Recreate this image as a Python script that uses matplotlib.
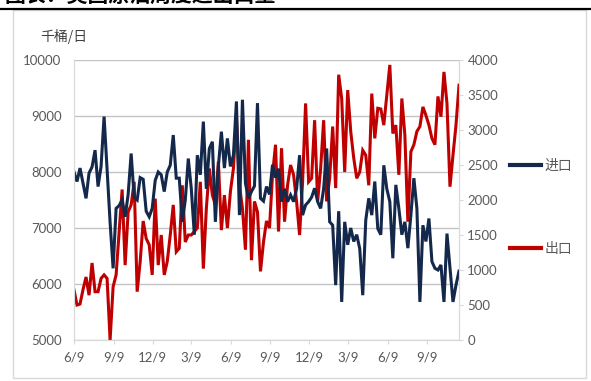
import numpy as np
import pandas as pd
import matplotlib
matplotlib.use("Agg")
import matplotlib.pyplot as plt
from matplotlib.lines import Line2D
from matplotlib.patches import Rectangle

plt.rcParams['font.family'] = ['Lato', 'Noto Sans CJK SC', 'DejaVu Sans']

# 周度数据，千桶/日
imports = [8000, 7830, 8070, 7800, 7530, 7980, 8090, 8390, 7740, 8100,
           8990, 8060, 7100, 6280, 7350, 7400, 7500, 7200, 7600, 8330,
           7550, 7500, 7900, 7870, 7300, 7200, 7350, 7850, 8000, 7950,
           7650, 8000, 8120, 8660, 7890, 7890, 7110, 7500, 8240, 7700,
           6880, 8300, 7950, 8900, 7700, 8420, 8540, 7110, 8100, 8720,
           8070, 8600, 8100, 8300, 9260, 7230, 9290, 7800, 7530, 7650,
           7750, 9230, 7530, 7480, 7740, 7600, 8130, 7900, 8060, 7470,
           7700, 7470, 7590, 7470, 7700, 8300, 7230, 7410, 7470, 7550,
           7710, 7470, 7350, 7700, 8420, 7110, 7050, 5980, 7300, 5680,
           7110, 6700, 7000, 6760, 6880, 6630, 5800, 7140, 7530, 7230,
           7830, 6990, 6880, 8120, 7700, 7470, 6460, 7770, 7350, 6880,
           7110, 6640, 7230, 7890, 7350, 5680, 7050, 6760, 7170, 6400,
           6280, 6250, 6340, 5680, 6900, 6280, 5680, 5980, 6230]
exports = [714, 500, 514, 720, 900, 640, 1100, 690, 690, 880,
           930, 880, 0, 760, 930, 1550, 2150, 1070, 1830, 1930,
           2260, 690, 1120, 1700, 1450, 1360, 930, 2020, 1070, 1500,
           930, 1120, 1500, 1930, 1260, 1310, 2210, 1400, 1500, 1500,
           1550, 1600, 2260, 1020, 1880, 2450, 2070, 1930, 2550, 1570,
           2070, 1600, 2120, 2450, 3190, 2210, 1880, 1290, 2860, 1140,
           1980, 1830, 980, 1400, 1700, 1600, 2360, 2790, 1550, 2740,
           1690, 2210, 2500, 2360, 1980, 1500, 2260, 3380, 2260, 2310,
           3140, 1980, 2450, 3140, 1980, 2310, 3050, 2170, 3790, 3450,
           2400, 3570, 2980, 2600, 2310, 2400, 2710, 2640, 2210, 3520,
           2880, 3310, 3300, 3070, 3500, 3930, 2950, 3070, 2360, 3450,
           2930, 1690, 2690, 2790, 2980, 3050, 3330, 3210, 3070, 2880,
           2790, 3480, 3190, 3830, 3380, 2190, 2640, 3070, 3640]

dates = pd.date_range('2017-06-09', periods=len(imports), freq='7D')
ticks = pd.date_range('2017-06-09', dates[-1], freq=pd.DateOffset(months=3))
tick_labels = [f"{d.month}/{d.day}" for d in ticks]

navy = '#14284b'
red = '#c00000'
grey_txt = '#595959'
grid_c = '#c4c4c4'
spine_c = '#d9d9d9'

fig = plt.figure(figsize=(5.91, 3.81), dpi=100)
W, H = 591, 381

# 上方标题（只露出下半截）和粗横线
fig.text(4 / W, 1 - 3 / H, '图表：美国原油周度进出口量', fontsize=15, fontweight='bold',
         color='black', ha='left', va='baseline', family=['Noto Sans CJK SC', 'DejaVu Sans'])
fig.add_artist(Line2D([0, 1], [1 - 9 / H, 1 - 9 / H], color='black', lw=1.6))
fig.add_artist(Rectangle((13 / W, 1 - 378 / H), (586 - 13) / W, (378 - 10) / H,
                         fill=False, edgecolor=spine_c, lw=1.0))

ax = fig.add_axes([74 / W, 1 - 340 / H, (459 - 74) / W, 280 / H])
ax2 = ax.twinx()

ax.set_ylim(5000, 10000)
ax.set_yticks(np.arange(5000, 10001, 1000))
ax.grid(axis='y', color=grid_c, lw=1.0)
ax.set_axisbelow(True)
ax2.set_ylim(0, 4000)
ax2.set_yticks(np.arange(0, 4001, 500))

ax2.plot(dates, exports, color=red, lw=2.2, label='出口', solid_joinstyle='miter')
ax2.plot(dates, imports, color=navy, lw=2.2, label='进口', transform=ax.transData,
         solid_joinstyle='miter')

ax.set_xlim(dates[0], dates[-1])
ax.set_xticks(ticks)
ax.set_xticklabels(tick_labels)

for a in (ax, ax2):
    for s in a.spines.values():
        s.set_color(spine_c)
    a.spines['top'].set_visible(False)
ax.tick_params(axis='y', length=0, pad=9, labelsize=9.5, labelcolor=grey_txt)
ax.tick_params(axis='x', length=3, color=spine_c, pad=5, labelsize=9.5, labelcolor=grey_txt)
ax2.tick_params(axis='y', length=3, color=spine_c, pad=3, labelsize=9.5, labelcolor=grey_txt)

fig.text(40 / W, 1 - 37 / H, '千桶/日', fontsize=10, color='#404040', va='center',
         family=['Noto Sans CJK SC', 'DejaVu Sans'])

h_imp = Line2D([], [], color=navy, lw=3)
h_exp = Line2D([], [], color=red, lw=3)
leg = fig.legend([h_imp, h_exp], ['进口', '出口'], loc='center left',
                 bbox_to_anchor=(510 / W, 1 - 207.5 / H), frameon=False,
                 borderpad=0, borderaxespad=0, handlelength=2.2, handletextpad=0.3,
                 labelspacing=5.0, prop={'family': ['Noto Sans CJK SC'], 'size': 10})
for t in leg.get_texts():
    t.set_color(grey_txt)

fig.savefig('out.png', dpi=100)
